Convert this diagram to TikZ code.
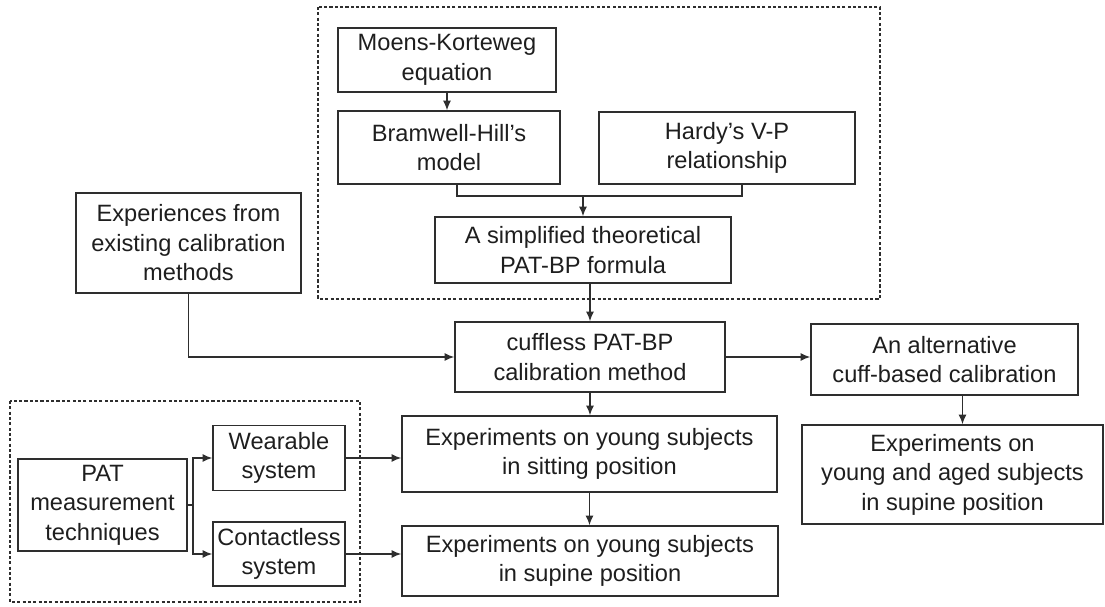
\documentclass[tikz,border=0pt]{standalone}
\usepackage{fontspec}
\setmainfont{Liberation Sans}
\usetikzlibrary{arrows.meta, positioning, calc}
\definecolor{cline}{HTML}{2E2E2E}
\definecolor{ctext}{HTML}{1E1E1E}
\tikzset{
  every picture/.style={line width=1.1pt},
  box/.style={draw=cline, align=center, inner sep=2pt, text=ctext},
  sz/.style 2 args={minimum width=#1cm, minimum height=#2cm},
  arrow/.style={-{Latex[length=2.4mm, width=2mm]}, draw=cline, line width=1pt},
  link/.style={draw=cline, line width=1pt},
  group/.style={draw=cline, line width=0.8pt, dash pattern=on 2.2pt off 1.6pt},
}

\begin{document}
\begin{tikzpicture}[
    every node/.append style={font=\fontsize{16.8}{21}\selectfont},
  ]
  \useasboundingbox (0,0) rectangle (27.625,15.15);

  % ---- theory
  \node[box, sz={5.45}{1.6}]   (moens)   at (11.175,13.65) {Moens-Korteweg\\equation};
  \node[box, sz={5.55}{1.825}] (bram)    at (11.225,11.46) {Bramwell-Hill's\\model};
  \node[box, sz={6.4}{1.8}]    (hardy)   at (18.175,11.45) {Hardy's V-P\\relationship};
  \node[box, sz={7.4}{1.65}]   (formula) at (14.575,8.9)   {A simplified theoretical\\PAT-BP formula};
  \node[box, sz={5.625}{2.5}]  (exper)   at (4.7125,9.075) {Experiences from\\existing calibration\\methods};

  % ---- calibration
  \node[box, sz={6.75}{1.75}]  (cuff)    at (14.75,6.225)  {cuffless PAT-BP\\calibration method};
  \node[box, sz={6.675}{1.775}] (alt)    at (23.6125,6.1625) {An alternative\\cuff-based calibration};

  % ---- experiments
  \node[box, sz={9.375}{1.9}]  (sit)     at (14.7375,3.8)  {Experiments on young subjects\\in sitting position};
  \node[box, sz={9.4}{1.75}]   (sup)     at (14.75,1.125)  {Experiments on young subjects\\in supine position};
  \node[box, sz={7.525}{2.475}] (aged)   at (23.8125,3.2875) {Experiments on\\young and aged subjects\\in supine position};

  % ---- measurement
  \node[box, sz={4.225}{2.3}]  (pat)     at (2.5625,2.525) {PAT\\measurement\\techniques};
  \node[box, sz={3.3}{1.625}]  (wear)    at (6.975,3.7)    {Wearable\\system};
  \node[box, sz={3.3}{1.6}]    (contact) at (6.975,1.3)    {Contactless\\system};

  % groups
  \draw[group] (7.95,14.975) rectangle (22.0,7.675);
  \draw[group] (0.25,5.125) rectangle (9.0,0.1);

  % connectors
  \coordinate (jn) at (14.575,10.25);
  \coordinate (sp) at (4.83,2.525);
  \draw[arrow] (moens.south) -- (moens.south |- bram.north);
  \draw[link]  ([xshift=0.2cm]bram.south) |- (jn) -| ([xshift=0.375cm]hardy.south);
  \draw[arrow] (jn) -- (formula.north);
  \draw[arrow] (cuff.north |- formula.south) -- (cuff.north);
  \draw[arrow] (exper.south) |- (cuff.west);
  \draw[arrow] (cuff.east) -- (cuff.east -| alt.west);
  \draw[arrow] ([xshift=0.45cm]alt.south) -- ([xshift=0.45cm]alt.south |- aged.north);
  \draw[arrow] (cuff.south) -- (cuff.south |- sit.north);
  \draw[arrow] (sit.south) -- (sit.south |- sup.north);
  \draw[link]  (pat.east) -- (sp);
  \draw[arrow] (sp) |- (wear.west);
  \draw[arrow] (sp) |- (contact.west);
  \draw[arrow] (wear.east) -- (wear.east -| sit.west);
  \draw[arrow] (contact.east) -- (contact.east -| sup.west);
\end{tikzpicture}
\end{document}
